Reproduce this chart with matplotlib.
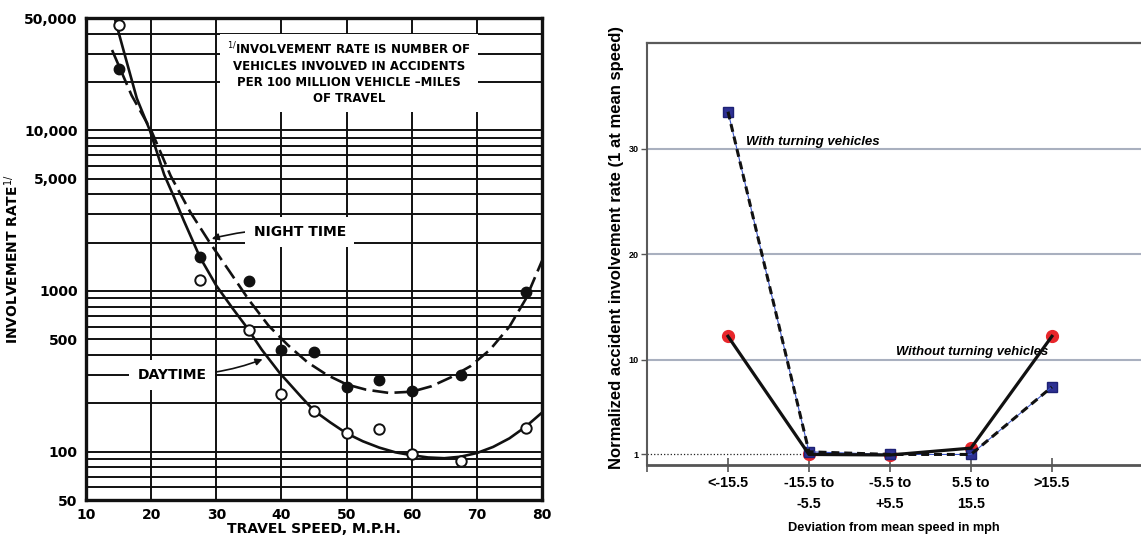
import matplotlib.pyplot as plt
from matplotlib.ticker import NullFormatter

# ---- left panel: involvement rate vs travel speed ----
day_speed = [15, 27.5, 35, 40, 45, 50, 55, 60, 67.5, 77.5]
day_rate = [45000, 1170, 570, 227, 178, 130, 139, 97, 87, 141]
night_speed = [15, 27.5, 35, 40, 45, 50, 55, 60, 67.5, 77.5]
night_rate = [24000, 1630, 1155, 428, 416, 251, 278, 237, 298, 985]

# smoothed curves as drawn on the original sheet
day_curve_speed = [14.4, 16, 17.8, 19.8, 22, 23.5, 25, 27.5, 30, 32.5, 34.6, 37, 39.7,
                   43, 45, 47.5, 50, 52.5, 55, 57.5, 60, 62.5, 65, 67.5, 70, 72.5, 75, 77.5, 80]
day_curve_rate = [50000, 29000, 15800, 10000, 5300, 3850, 2750, 1620, 1080, 780, 600, 430, 310,
                  220, 180, 152, 130, 116, 106, 99, 95, 92, 91, 93, 98, 107, 121, 143, 175]
night_curve_speed = [14, 17, 20, 23, 26, 29, 32, 35, 38, 41, 44, 47, 50, 53, 56.5,
                     60, 63, 66, 69, 72, 75, 77.5, 80]
night_curve_rate = [31600, 16500, 10000, 5200, 3100, 2000, 1330, 880, 610, 460, 360, 300, 262, 243, 232,
                    236, 255, 290, 340, 430, 600, 890, 1540]

rate_ticks = [50, 100, 500, 1000, 5000, 10000, 50000]
rate_labels = ['50', '100', '500', '1000', '5,000', '10,000', '50,000']
speed_ticks = [10, 20, 30, 40, 50, 60, 70, 80]

# ---- right panel: normalized involvement rate vs deviation ----
deviation_labels = ['<-15.5', '-15.5 to\n-5.5', '-5.5 to\n+5.5', '5.5 to\n15.5', '>15.5']
with_turning = [33.5, 1.25, 1.0, 1.0, 7.4]
without_turning = [12.2, 1.0, 0.95, 1.6, 12.2]
rate_ticks_right = [1, 10, 20, 30]

fig = plt.figure(figsize=(11.41, 5.37), dpi=100)

# left axes
ax = fig.add_axes([86 / 1141, 37 / 537, 456 / 1141, 482 / 537])
ax.set_yscale('log')
ax.set_xlim(10, 80)
ax.set_ylim(50, 50000)

grid_vals = [m * 10 ** e for e in range(1, 5) for m in range(1, 10)
             if 50 <= m * 10 ** e <= 50000 and m * 10 ** e not in rate_ticks]
ax.set_yticks(rate_ticks, rate_labels)
ax.set_yticks(grid_vals, minor=True)
ax.yaxis.set_minor_formatter(NullFormatter())
ax.set_xticks(speed_ticks, [str(s) for s in speed_ticks])
ax.grid(True, which='both', color='#111111', lw=1.4)
ax.set_axisbelow(True)
ax.tick_params(which='both', length=0, labelsize=10, pad=6)
for lab in ax.get_xticklabels() + ax.get_yticklabels():
    lab.set_fontweight('bold')
for sp in ax.spines.values():
    sp.set_linewidth(2.4)
    sp.set_color('#111111')

ax.plot(day_curve_speed, day_curve_rate, color='#111111', lw=1.9, zorder=3)
ax.plot(night_curve_speed, night_curve_rate, color='#111111', lw=1.9,
        dashes=(6, 2.4), zorder=3)
ax.plot(day_speed, day_rate, 'o', ms=7.5, mfc='white', mec='#111111', mew=1.4, zorder=4)
ax.plot(night_speed, night_rate, 'o', ms=7.5, color='#111111', zorder=4)

ax.set_xlabel('TRAVEL SPEED, M.P.H.', fontsize=10, fontweight='bold', labelpad=0)
ax.set_ylabel('INVOLVEMENT RATE$^{1/}$', fontsize=10, fontweight='bold', labelpad=2)

ax.text(50.4, 22700,
        '$^{1/}$INVOLVEMENT RATE IS NUMBER OF\nVEHICLES INVOLVED IN ACCIDENTS\n'
        'PER 100 MILLION VEHICLE \u2013MILES\nOF TRAVEL',
        ha='center', va='center', fontsize=8.5, fontweight='bold', linespacing=1.3,
        bbox=dict(boxstyle='square,pad=0.6', fc='white', ec='none'), zorder=5)

ax.annotate('NIGHT TIME', xy=(29.3, 2110), xytext=(42.8, 2330),
            ha='center', va='center', fontsize=10, fontweight='bold',
            bbox=dict(boxstyle='square,pad=0.6', fc='white', ec='none'),
            arrowprops=dict(arrowstyle='-|>', color='#111111', lw=1.2,
                            connectionstyle='arc3,rad=0.1', shrinkA=0, shrinkB=0),
            zorder=5)
ax.annotate('DAYTIME', xy=(37.1, 376), xytext=(23.2, 300),
            ha='center', va='center', fontsize=10, fontweight='bold',
            bbox=dict(boxstyle='square,pad=0.6', fc='white', ec='none'),
            arrowprops=dict(arrowstyle='-|>', color='#111111', lw=1.2,
                            connectionstyle='arc3,rad=0.1', shrinkA=0, shrinkB=0),
            zorder=5)

# right axes
sans = ['Liberation Sans', 'DejaVu Sans']
ax2 = fig.add_axes([647 / 1141, 72 / 537, 494 / 1141, 422 / 537])
x = list(range(1, len(deviation_labels) + 1))
ax2.set_xlim(0, 6.1)
ax2.set_ylim(0, 40)

for v in [10, 20, 30]:
    ax2.axhline(v, color='#a9b0bf', lw=1.5, zorder=1)
ax2.hlines(1, 0, 2, color='#222222', lw=0.9, linestyles=':', zorder=1)

ax2.plot(x, without_turning, 'o', ms=8.5, color='#e8262b', zorder=3)
ax2.plot(x, with_turning, 's', ms=7.5, color='#2e3192', mec='#1d2175', zorder=3)
ax2.plot(x, with_turning, color='#3a55c8', lw=0.8, zorder=4)
ax2.plot(x, with_turning, color='#111111', lw=2.2, dashes=(2.6, 1.6), zorder=4)
ax2.plot(x, without_turning, color='#111111', lw=2.3, zorder=5)

ax2.set_xticks([0] + x, [''] + deviation_labels)
ax2.set_yticks(rate_ticks_right, [str(v) for v in rate_ticks_right])
ax2.tick_params(axis='x', direction='inout', length=10, width=1.2, color='#555555', pad=3)
ax2.tick_params(axis='y', direction='out', length=4, width=1, color='#555555', pad=2)
for lab in ax2.get_xticklabels():
    lab.set_fontfamily(sans)
    lab.set_fontweight('bold')
    lab.set_fontsize(10.4)
    lab.set_linespacing(1.6)
for lab in ax2.get_yticklabels():
    lab.set_fontfamily(sans)
    lab.set_fontweight('bold')
    lab.set_fontsize(6.5)

ax2.spines['right'].set_visible(False)
ax2.spines['top'].set_color('#5a5a5a')
ax2.spines['top'].set_linewidth(1.6)
ax2.spines['left'].set_color('#5a5a5a')
ax2.spines['left'].set_linewidth(1.5)
ax2.spines['bottom'].set_color('#555555')
ax2.spines['bottom'].set_linewidth(2)

ax2.text(1.22, 30.3, 'With turning vehicles', ha='left', va='baseline',
         fontsize=9.5, fontweight='bold', fontstyle='italic', family=sans)
ax2.text(3.07, 10.4, 'Without turning vehicles', ha='left', va='baseline',
         fontsize=9.4, fontweight='bold', fontstyle='italic', family=sans)

ax2.set_xlabel('Deviation from mean speed in mph', fontsize=9.2, fontweight='bold',
               family=sans, labelpad=8)
ax2.set_ylabel('Normalized accident involvement rate (1 at mean speed)', fontsize=12,
               fontweight='bold', family=sans)
ax2.yaxis.set_label_coords(-0.047, 0.515)

fig.savefig('out.png', dpi=100)
